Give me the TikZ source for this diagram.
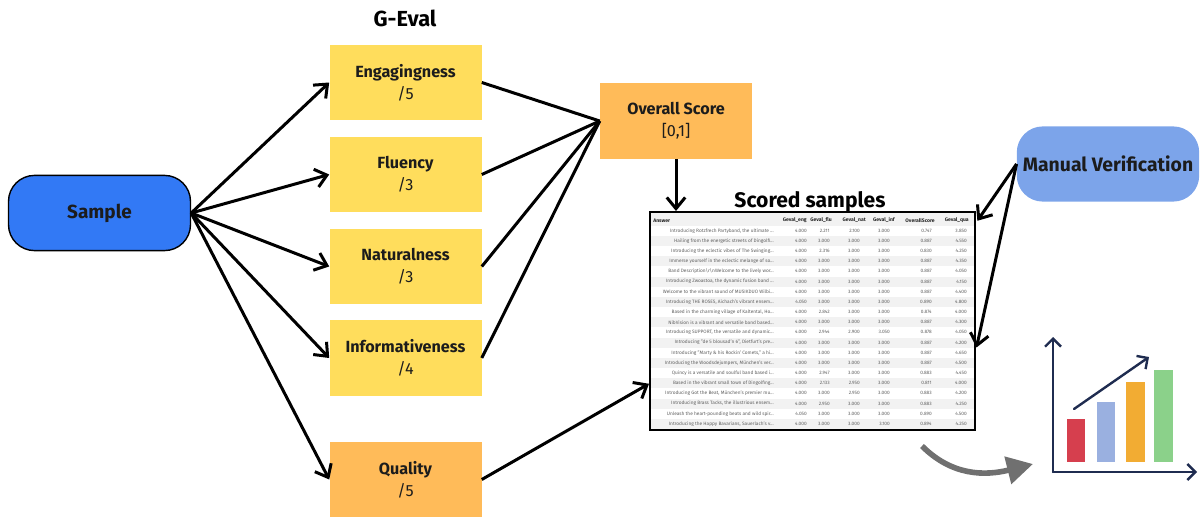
\documentclass[tikz,border=0pt]{standalone}
\usepackage{fontspec}
\setmainfont{Fira Sans}
\usetikzlibrary{arrows.meta}

\definecolor{sampleblue}{HTML}{3279F5}
\definecolor{gevalyellow}{HTML}{FFDD5C}
\definecolor{scoreorange}{HTML}{FFBB59}
\definecolor{verifyblue}{HTML}{7CA4EA}
\definecolor{inkdark}{HTML}{1C1C1C}
\definecolor{rowgray}{HTML}{F2F2F2}
\definecolor{chartnavy}{HTML}{1F2C50}
\definecolor{barred}{HTML}{D63F4E}
\definecolor{barblue}{HTML}{9AB0E0}
\definecolor{barorange}{HTML}{F2AC33}
\definecolor{bargreen}{HTML}{8BD18A}
\definecolor{curvegray}{HTML}{707070}

\tikzset{
  flow/.style={line width=0.75mm, -{Straight Barb[length=2.8mm,width=4.6mm]}},
  link/.style={line width=0.75mm},
  metric/.style={fill=gevalyellow, minimum width=38mm, minimum height=18.8mm,
    align=center, text=inkdark, font=\fontsize{11.5}{15.5}\selectfont},
  pill/.style={rounded corners=6.5mm, minimum width=45.5mm, minimum height=18.8mm,
    text=inkdark, font=\fontsize{13.5}{15}\selectfont\bfseries},
  title/.style={text=black, font=\fontsize{15.5}{17}\selectfont\bfseries},
  cell/.style={anchor=east, inner sep=0pt, text=black!62, font=\fontsize{3.4}{4}\selectfont},
  headcell/.style={anchor=east, inner sep=0pt, text=black!85, font=\fontsize{3.6}{4}\selectfont\bfseries},
  axis/.style={line width=0.6mm, draw=chartnavy, line cap=round},
}

% one row of the scored table: y, fill, answer, six scores
\def\scorerow#1#2#3#4#5#6#7#8#9{%
  \fill[#2] (651,#1-5.08) rectangle (974,#1+5.08);
  \node[cell] at (774,#1) {#3};
  \node[cell] at (807,#1) {#4};
  \node[cell] at (830,#1) {#5};
  \node[cell] at (860,#1) {#6};
  \node[cell] at (890,#1) {#7};
  \node[cell] at (932,#1) {#8};
  \node[cell] at (967,#1) {#9};
}

\begin{document}
\begin{tikzpicture}[x=0.25mm, y=-0.25mm]
  \useasboundingbox (0,0) rectangle (1200,518);

  %%%%% left part %%%%%
  \node[pill, draw=black, line width=0.35mm, fill=sampleblue] (sample) at (99.5,213) {Sample};

  \node[title] (geval) at (405,18) {G-Eval};
  \node[metric] (eng) at (405.5,82.5) {\textbf{Engagingness}\\/5};
  \node[metric] (flu) at (405.5,174.5) {\textbf{Fluency}\\/3};
  \node[metric] (nat) at (405.5,266.5) {\textbf{Naturalness}\\/3};
  \node[metric] (inf) at (405.5,358) {\textbf{Informativeness}\\/4};
  \node[metric, fill=scoreorange] (qua) at (405.5,479.5) {\textbf{Quality}\\/5};

  \node[metric, fill=scoreorange] (overall) at (676,121) {\textbf{Overall Score}\\{}[0,1]};

  \draw[flow] (sample.east) -- (eng.west);
  \draw[flow] (sample.east) -- (flu.west);
  \draw[flow] (sample.east) -- (nat.west);
  \draw[flow] (sample.east) -- (inf.west);
  \draw[flow] (sample.east) -- (qua.west);

  \draw[link] (eng.east) -- (overall.west);
  \draw[link] (flu.east) -- (overall.west);
  \draw[link] (nat.east) -- (overall.west);
  \draw[link] (inf.east) -- (overall.west);

  %%%%% scored table %%%%%
  \node[title, font=\fontsize{15}{17}\selectfont\bfseries] (scored) at (810,202) {Scored samples};

  \begin{scope}
    \clip (651,213) rectangle (974,429);
    \fill[rowgray] (651,213) rectangle (974,225.6);
    \node[headcell, anchor=west] at (653,220.3) {Answer};
    \node[headcell] at (807,220.3) {Geval\_eng};
    \node[headcell] at (832,220.3) {Geval\_flu};
    \node[headcell] at (866,220.3) {Geval\_nat};
    \node[headcell] at (895,220.3) {Geval\_inf};
    \node[headcell] at (935,220.3) {OverallScore};
    \node[headcell] at (969,220.3) {Geval\_qua};

    \scorerow{230.7}{white}{Introducing Rotzfrech Partyband, the ultimate ...}{4.000}{2.211}{2.100}{3.000}{0.747}{3.850}
    \scorerow{240.9}{rowgray}{Hailing from the energetic streets of Dingolfi...}{4.000}{3.000}{3.000}{3.000}{0.887}{4.550}
    \scorerow{251.0}{white}{Introducing the eclectic vibes of The Swinging...}{4.000}{2.316}{3.000}{3.000}{0.830}{4.250}
    \scorerow{261.2}{rowgray}{Immerse yourself in the eclectic melange of so...}{4.000}{3.000}{3.000}{3.000}{0.887}{4.350}
    \scorerow{271.4}{white}{Band Description\textbackslash r\textbackslash nWelcome to the lively wor...}{4.000}{3.000}{3.000}{3.000}{0.887}{4.050}
    \scorerow{281.6}{rowgray}{Introducing Zwoastoa, the dynamic fusion band ...}{4.000}{3.000}{3.000}{3.000}{0.887}{4.150}
    \scorerow{291.7}{white}{Welcome to the vibrant sound of MUSIKDUO Wilbi...}{4.000}{3.000}{3.000}{3.000}{0.887}{4.400}
    \scorerow{301.9}{rowgray}{Introducing THE ROSES, Aichach's vibrant ensem...}{4.050}{3.000}{3.000}{3.000}{0.890}{4.800}
    \scorerow{312.1}{white}{Based in the charming village of Kaltental, Ho...}{4.000}{2.842}{3.000}{3.000}{0.874}{4.000}
    \scorerow{322.2}{rowgray}{NibVision is a vibrant and versatile band based...}{4.000}{3.000}{3.000}{3.000}{0.887}{4.300}
    \scorerow{332.4}{white}{Introducing SUPPORT, the versatile and dynamic...}{4.000}{2.944}{2.900}{3.050}{0.878}{4.050}
    \scorerow{342.6}{rowgray}{Introducing "de 5 blousad'n 6", Dietfurt's pre...}{4.000}{3.000}{3.000}{3.000}{0.887}{4.200}
    \scorerow{352.7}{white}{Introducing "Marty \& his Rockin' Comets," a hi...}{4.000}{3.000}{3.000}{3.000}{0.887}{4.650}
    \scorerow{362.9}{rowgray}{Introducing the Woodsdejumpers, München's ver...}{4.000}{3.000}{3.000}{3.000}{0.887}{4.500}
    \scorerow{373.1}{white}{Quincy is a versatile and soulful band based i...}{4.000}{2.947}{3.000}{3.000}{0.883}{4.450}
    \scorerow{383.3}{rowgray}{Based in the vibrant small town of Dingolfing...}{4.000}{2.133}{2.950}{3.000}{0.811}{4.000}
    \scorerow{393.4}{white}{Introducing Got the Beat, München's premier mu...}{4.000}{3.000}{2.950}{3.000}{0.883}{4.200}
    \scorerow{403.6}{rowgray}{Introducing Brass Tacks, the illustrious ensem...}{4.000}{2.950}{3.000}{3.000}{0.883}{4.250}
    \scorerow{413.8}{white}{Unleash the heart-pounding beats and wild spir...}{4.050}{3.000}{3.000}{3.000}{0.890}{4.500}
    \scorerow{423.9}{rowgray}{Introducing the Happy Bavarians, Sauerlach's v...}{4.000}{3.000}{3.000}{3.100}{0.894}{4.250}
  \end{scope}
  \node[draw=black, line width=0.5mm, minimum width=81.25mm, minimum height=54.5mm, inner sep=0pt] (table) at (812.5,321) {};

  \draw[flow] (overall.south) -- (overall.south |- table.north);
  \draw[flow] (qua.east) -- (table.201.5);

  %%%%% right part %%%%%
  \node[pill, fill=verifyblue, minimum width=45.6mm, font=\fontsize{13.8}{15}\selectfont\bfseries] (verify) at (1108,164) {Manual Verification};
  \draw[flow, shorten >=0.6mm] (verify.west) -- (table.31.4);
  \draw[flow, shorten >=0.6mm] (verify.west) -- (table.-10.1);

  \draw[line width=1.4mm, color=curvegray, -{Triangle[length=6.5mm,width=6.8mm]}]
    (922,446) .. controls (952,476) and (985,476) .. (1033,464);

  % chart
  \fill[barred] (1067,462) rectangle (1085,419);
  \fill[barblue] (1097,462) rectangle (1115,402);
  \fill[barorange] (1126,462) rectangle (1145,382);
  \fill[bargreen] (1154,462) rectangle (1173,370);
  \draw[axis, -{Straight Barb[length=2mm,width=4mm]}] (1053,472) -- (1053,337);
  \draw[axis, -{Straight Barb[length=2mm,width=4mm]}] (1053,472) -- (1197,472);
  \draw[axis, -{Straight Barb[length=2mm,width=4mm]}] (1074,409) -- (1149,357);
\end{tikzpicture}
\end{document}
